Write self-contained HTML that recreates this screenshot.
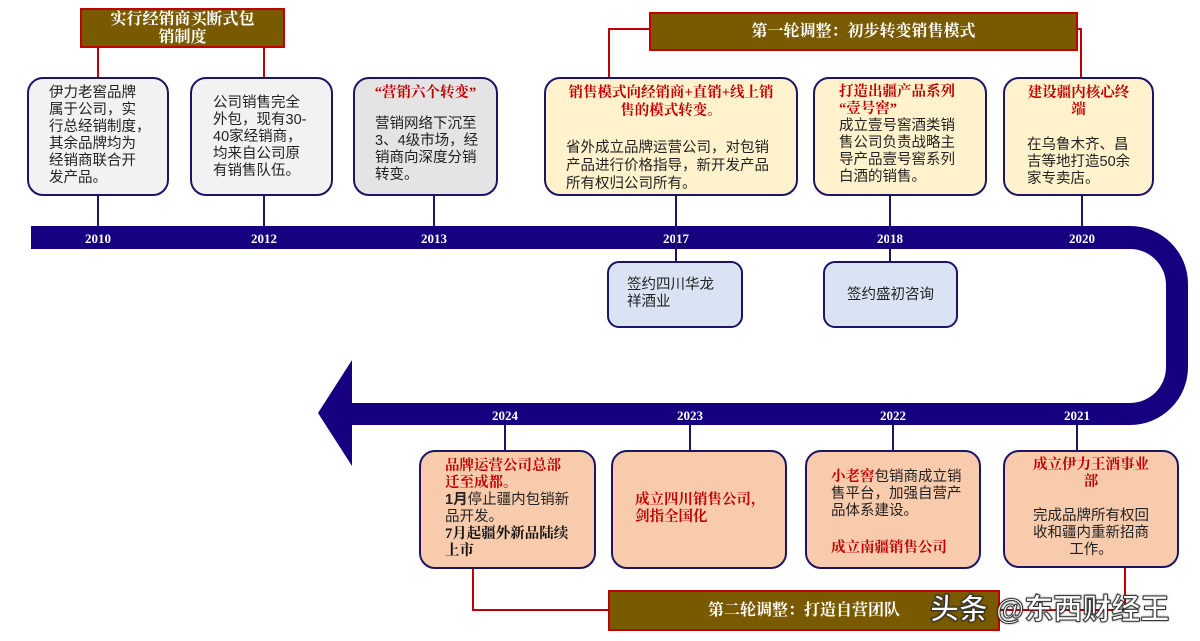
<!DOCTYPE html>
<html><head><meta charset="utf-8"><style>
body{margin:0;width:1200px;height:641px;background:#fff;position:relative;overflow:hidden;font-family:"Liberation Serif","Noto Serif CJK SC","Noto Sans CJK SC",serif;}
.b{position:absolute;box-sizing:border-box;border:2.5px solid #1c1466;border-radius:16px;font-size:14.5px;line-height:17px;color:#222;font-family:"Liberation Sans","Noto Sans CJK SC",sans-serif;white-space:nowrap;}
.r{color:#c00000;font-weight:bold;font-family:"Liberation Serif","Noto Serif CJK SC",serif;}
.t{position:absolute;box-sizing:border-box;background:#7a5a00;border:2px solid #c00000;color:#fff;font-weight:bold;font-size:16px;text-align:center;line-height:18px;}
.y{position:absolute;color:#fff;font-weight:bold;font-size:13px;width:60px;text-align:center;}
.v{position:absolute;width:2px;background:#1c1466;}
.rv{position:absolute;background:#c00000;}
</style></head><body>
<svg width="1200" height="641" style="position:absolute;left:0;top:0">
<path d="M31 226 H1130 A58 58 0 0 1 1188 284 V367 A58 58 0 0 1 1130 425 H352 V466 L318 413 L352 360 V403 H1130 A36 36 0 0 0 1166 367 V284 A36 36 0 0 0 1130 249 H31 Z" fill="#170080"/>
</svg>
<div class="y" style="left:68px;top:231px">2010</div>
<div class="y" style="left:234px;top:231px">2012</div>
<div class="y" style="left:404px;top:231px">2013</div>
<div class="y" style="left:646px;top:231px">2017</div>
<div class="y" style="left:860px;top:231px">2018</div>
<div class="y" style="left:1052px;top:231px">2020</div>
<div class="y" style="left:475px;top:408px">2024</div>
<div class="y" style="left:660px;top:408px">2023</div>
<div class="y" style="left:863px;top:408px">2022</div>
<div class="y" style="left:1047px;top:408px">2021</div>

<div class="v" style="left:97px;top:195px;height:31px"></div>
<div class="v" style="left:263px;top:195px;height:31px"></div>
<div class="v" style="left:433px;top:195px;height:31px"></div>
<div class="v" style="left:675px;top:195px;height:67px"></div>
<div class="v" style="left:889px;top:195px;height:67px"></div>
<div class="v" style="left:1081px;top:195px;height:31px"></div>
<div class="v" style="left:504px;top:425px;height:26px"></div>
<div class="v" style="left:689px;top:425px;height:26px"></div>
<div class="v" style="left:892px;top:425px;height:26px"></div>
<div class="v" style="left:1076px;top:425px;height:26px"></div>

<div class="rv" style="left:97px;top:46px;width:2px;height:31px"></div>
<div class="rv" style="left:263px;top:46px;width:2px;height:31px"></div>
<div class="rv" style="left:608px;top:28px;width:42px;height:2px"></div>
<div class="rv" style="left:608px;top:28px;width:2px;height:50px"></div>
<div class="rv" style="left:1076px;top:28px;width:6px;height:2px"></div>
<div class="rv" style="left:1080px;top:28px;width:2px;height:50px"></div>
<div class="rv" style="left:472px;top:566px;width:2px;height:44px"></div>
<div class="rv" style="left:472px;top:609px;width:138px;height:2px"></div>
<div class="rv" style="left:1124px;top:566px;width:2px;height:44px"></div>
<div class="rv" style="left:998px;top:609px;width:128px;height:2px"></div>

<div class="t" style="left:80px;top:8px;width:205px;height:40px;padding-top:1px">实行经销商买断式包<br>销制度</div>
<div class="t" style="left:649px;top:12px;width:429px;height:39px;line-height:35px">第一轮调整：初步转变销售模式</div>
<div class="t" style="left:608px;top:590px;width:392px;height:41px;line-height:37px">第二轮调整：打造自营团队</div>

<div class="b" style="left:27px;top:77px;width:142px;height:119px;background:#f2f2f2;padding:6px 0 0 20px">伊力老窖品牌<br>属于公司，实<br>行总经销制度，<br>其余品牌均为<br>经销商联合开<br>发产品。</div>
<div class="b" style="left:190px;top:77px;width:143px;height:119px;background:#f2f2f2;padding:16px 0 0 21px">公司销售完全<br>外包，现有30-<br>40家经销商，<br>均来自公司原<br>有销售队伍。</div>
<div class="b" style="left:353px;top:77px;width:145px;height:119px;background:#e4e4e4;padding:6px 0 0 20px"><div class="r" style="text-align:center;margin-left:-20px">“营销六个转变”</div><div style="margin-top:14px">营销网络下沉至<br>3、4级市场，经<br>销商向深度分销<br>转变。</div></div>
<div class="b" style="left:544px;top:77px;width:254px;height:119px;background:#fff2cc;padding:5px 0 0 0;line-height:18px"><div class="r" style="text-align:center">销售模式向经销商+直销+线上销<br>售的模式转变。</div><div style="margin:19px 0 0 20px">省外成立品牌运营公司，对包销<br>产品进行价格指导，新开发产品<br>所有权归公司所有。</div></div>
<div class="b" style="left:813px;top:77px;width:174px;height:119px;background:#fff2cc;padding:5px 0 0 24px"><div class="r">打造出疆产品系列<br>“壹号窖”</div>成立壹号窖酒类销<br>售公司负责战略主<br>导产品壹号窖系列<br>白酒的销售。</div>
<div class="b" style="left:1003px;top:77px;width:151px;height:119px;background:#fff2cc;padding:6px 0 0 0"><div class="r" style="text-align:center">建设疆内核心终<br>端</div><div style="margin:18px 0 0 22px">在乌鲁木齐、昌<br>吉等地打造50余<br>家专卖店。</div></div>

<div class="b" style="left:607px;top:261px;width:136px;height:67px;background:#dae3f3;padding:14px 0 0 18px;border-radius:12px">签约四川华龙<br>祥酒业</div>
<div class="b" style="left:823px;top:261px;width:135px;height:67px;background:#dae3f3;padding:24px 0 0 0;text-align:center;border-radius:12px">签约盛初咨询</div>

<div class="b" style="left:419px;top:450px;width:177px;height:119px;background:#f8cbad;padding:6px 0 0 24px"><div class="r">品牌运营公司总部<br>迁至成都。</div><b>1月</b>停止疆内包销新<br>品开发。<br><b style="font-family:'Liberation Serif','Noto Serif CJK SC',serif;color:#111">7月起疆外新品陆续<br>上市</b></div>
<div class="b" style="left:611px;top:450px;width:176px;height:119px;background:#f8cbad;padding:40px 0 0 22px"><div class="r">成立四川销售公司，<br>剑指全国化</div></div>
<div class="b" style="left:805px;top:450px;width:176px;height:119px;background:#f8cbad;padding:17px 0 0 24px"><span class="r">小老窖</span>包销商成立销<br>售平台，加强自营产<br>品体系建设。<div class="r" style="margin-top:20px">成立南疆销售公司</div></div>
<div class="b" style="left:1003px;top:450px;width:176px;height:118px;background:#f8cbad;padding:5px 0 0 0;text-align:center"><div class="r">成立伊力王酒事业<br>部</div><div style="margin-top:17px">完成品牌所有权回<br>收和疆内重新招商<br>工作。</div></div>

<div style="position:absolute;left:930px;top:586px;font-size:29px;color:#fff;font-family:'Liberation Sans','Noto Sans CJK SC',sans-serif;-webkit-text-stroke:1px #333;text-shadow:0 0 2px #000;font-weight:bold;white-space:nowrap">头条 @东西财经王</div>
</body></html>
